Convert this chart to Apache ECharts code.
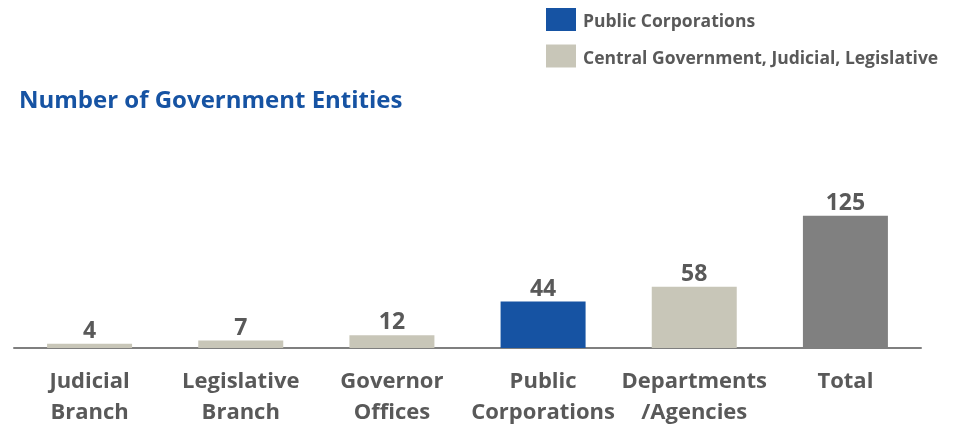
<!DOCTYPE html>
<html><head><meta charset="utf-8">
<script src="https://cdn.jsdelivr.net/npm/echarts@6/dist/echarts.min.js"></script>
<style>html,body{margin:0;padding:0;background:#fff}#c{width:957px;height:426px}</style>
</head><body><div id="c"></div>
<script>
const categories = ['Judicial\nBranch', 'Legislative\nBranch', 'Governor\nOffices', 'Public\nCorporations', 'Departments\n/Agencies', 'Total'];
const publicCorporations = [null, null, null, 44, null, null];
const centralGov = [4, 7, 12, null, 58, null];
const totalValues = [null, null, null, null, null, 125];
const seriesNames = ['Public Corporations', 'Central Government, Judicial, Legislative', 'Total'];
const titleText = 'Number of Government Entities';

const FONT = 'Open Sans';
const labelStyle = {show: true, position: 'top', distance: 1, color: '#595959', fontWeight: 'bold', fontSize: 23, fontFamily: FONT};
const chart = echarts.init(document.getElementById('c'));
chart.setOption({
  animation: false,
  title: {text: titleText, left: 14, top: 84, textStyle: {color: '#1653a3', fontWeight: 'bold', fontSize: 24, fontFamily: FONT}},
  legend: {
    orient: 'vertical', left: 541, top: 3, itemWidth: 30, itemHeight: 23, itemGap: 13,
    data: [seriesNames[0], seriesNames[1]],
    formatter: '{a|{name}}',
    textStyle: {
      color: '#595959', fontWeight: 'bold', fontSize: 17.5, fontFamily: FONT,
      rich: {a: {color: '#595959', fontWeight: 'bold', fontSize: 17.5, fontFamily: FONT, padding: [6, 0, 0, 2]}}
    },
    icon: 'rect'
  },
  grid: {left: 14, right: 36, top: 163, bottom: 78, containLabel: false, outerBoundsMode: 'none'},
  xAxis: {
    type: 'category', data: categories,
    axisLine: {lineStyle: {color: '#7f7f7f', width: 2}},
    axisTick: {show: false},
    axisLabel: {interval: 0, color: '#595959', fontWeight: 'bold', fontSize: 22, fontFamily: FONT, lineHeight: 31, margin: 18}
  },
  yAxis: {type: 'value', min: 0, max: 175, show: false, splitLine: {show: false}},
  series: [
    {name: seriesNames[0], type: 'bar', stack: 'a', barWidth: 85, data: publicCorporations, itemStyle: {color: '#1653a3'}, label: labelStyle},
    {name: seriesNames[1], type: 'bar', stack: 'a', barWidth: 85, data: centralGov, itemStyle: {color: '#c8c6b8'}, label: labelStyle},
    {name: seriesNames[2], type: 'bar', stack: 'a', barWidth: 85, data: totalValues, itemStyle: {color: '#808080'}, label: labelStyle}
  ]
});
</script></body></html>
